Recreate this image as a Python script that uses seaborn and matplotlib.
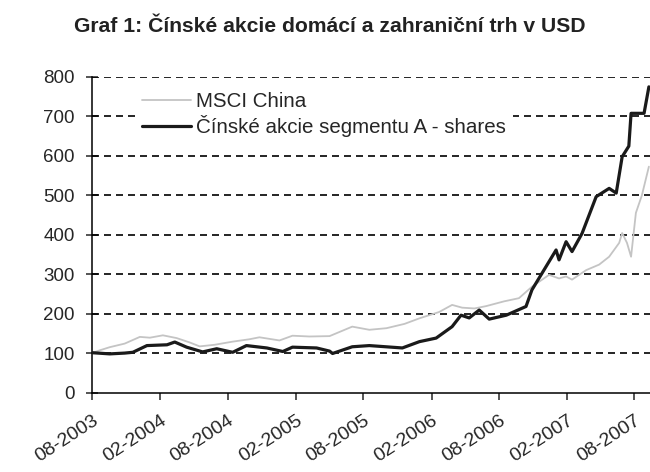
import pandas as pd
import matplotlib
matplotlib.use("Agg")
import matplotlib.pyplot as plt
import seaborn as sns

# MSCI China (gray line)
msci_dates = ["2003-08-01", "2003-08-22", "2003-09-18", "2003-10-28", "2003-12-08",
              "2004-01-04", "2004-02-08", "2004-03-16", "2004-04-20", "2004-05-17",
              "2004-06-26", "2004-08-14", "2004-09-28", "2004-10-25", "2004-12-18",
              "2005-01-22", "2005-03-09", "2005-05-02", "2005-07-02", "2005-08-17",
              "2005-10-02", "2005-11-20", "2005-12-30", "2006-02-21", "2006-03-28",
              "2006-04-24", "2006-05-27", "2006-06-28", "2006-08-15", "2006-09-24",
              "2006-10-29", "2006-12-14", "2007-01-10", "2007-01-29", "2007-02-14",
              "2007-03-24", "2007-04-28", "2007-05-25", "2007-06-21", "2007-06-29",
              "2007-07-12", "2007-07-23", "2007-08-05", "2007-08-21", "2007-09-09"]
msci_values = [101, 108, 116, 125, 142,
               140, 146, 139, 128, 118,
               122, 130, 136, 141, 133,
               145, 143, 144, 168, 160,
               164, 175, 189, 205, 223,
               216, 214, 220, 232, 240,
               269, 299, 290, 295, 287,
               311, 325, 345, 380, 405,
               380, 345, 456, 500, 573]

# Chinese A-shares (black line)
ashare_dates = ["2003-08-01", "2003-09-18", "2003-10-28", "2003-11-19", "2003-12-27",
                "2004-02-19", "2004-03-11", "2004-04-12", "2004-05-25", "2004-07-02",
                "2004-08-14", "2004-09-20", "2004-11-14", "2004-12-27", "2005-01-22",
                "2005-03-28", "2005-05-02", "2005-05-10", "2005-07-02", "2005-08-17",
                "2005-11-14", "2005-12-30", "2006-02-13", "2006-03-28", "2006-04-21",
                "2006-05-13", "2006-06-09", "2006-07-06", "2006-08-21", "2006-10-13",
                "2006-10-29", "2006-12-06", "2007-01-02", "2007-01-10", "2007-01-29",
                "2007-02-14", "2007-03-13", "2007-04-20", "2007-05-25", "2007-06-13",
                "2007-06-29", "2007-07-17", "2007-07-23", "2007-08-27", "2007-09-09"]
ashare_values = [102, 99, 101, 103, 120,
                 122, 129, 116, 104, 112,
                 103, 120, 114, 105, 116,
                 114, 106, 100, 117, 120,
                 114, 130, 139, 168, 197,
                 190, 210, 187, 197, 219,
                 261, 320, 362, 337, 383,
                 358, 404, 497, 518, 506,
                 598, 625, 708, 708, 775]

tick_dates = ["2003-08-01", "2004-02-01", "2004-08-01", "2005-02-01", "2005-08-01",
              "2006-02-01", "2006-08-01", "2007-02-01", "2007-08-01"]
tick_labels = ["08-2003", "02-2004", "08-2004", "02-2005", "08-2005",
               "02-2006", "08-2006", "02-2007", "08-2007"]

msci = pd.DataFrame({"date": pd.to_datetime(msci_dates), "value": msci_values})
ashare = pd.DataFrame({"date": pd.to_datetime(ashare_dates), "value": ashare_values})

sns.set_style("white")
plt.rcParams["font.family"] = ["Liberation Sans", "DejaVu Sans"]

fig = plt.figure(figsize=(6.5, 4.72), dpi=100)
ax = fig.add_axes([0.1415, 0.1674, 0.8585, 0.6695])

# dashed horizontal gridlines
for y in range(100, 900, 100):
    ax.axhline(y, color="black", lw=1.2, linestyle=(0, (4.2, 3)), zorder=1)

sns.lineplot(data=msci, x="date", y="value", ax=ax, color="#c4c4c4", lw=1.3,
             label="MSCI China", zorder=3)
sns.lineplot(data=ashare, x="date", y="value", ax=ax, color="#1a1a1a", lw=2.3,
             label="Čínské akcie segmentu A - shares", zorder=4)

ax.set_ylim(0, 800)
ax.set_xlim(pd.Timestamp("2003-08-01"), pd.Timestamp("2007-09-12"))
ax.set_yticks(range(0, 900, 100))
ax.set_xticks(pd.to_datetime(tick_dates))
ax.set_xticklabels(tick_labels, rotation=33, ha="right", rotation_mode="anchor",
                   fontsize=14)
ax.set_xlabel("")
ax.set_ylabel("")
ax.tick_params(axis="y", direction="inout", length=9, width=1.1, labelsize=13.5, pad=8,
               left=True)
ax.tick_params(axis="x", direction="out", length=5, width=1.1, pad=9, bottom=True)

for side in ["top", "right"]:
    ax.spines[side].set_visible(False)
for side in ["left", "bottom"]:
    ax.spines[side].set_color("black")
    ax.spines[side].set_linewidth(1.1)

leg = ax.legend(loc="upper left", bbox_to_anchor=(0.077, 0.975), fontsize=14.8,
                frameon=True, fancybox=False, framealpha=1, facecolor="white",
                edgecolor="none", handlelength=2.4, handletextpad=0.2,
                labelspacing=0.2, borderpad=0.35, borderaxespad=0)
leg.set_zorder(5)

fig.text(0.508, 1 - 26 / 472, "Graf 1: Čínské akcie domácí a zahraniční trh v USD",
         ha="center", va="center", fontsize=15.2, fontweight="bold", color="#222222")

fig.savefig("out.png", dpi=100)
